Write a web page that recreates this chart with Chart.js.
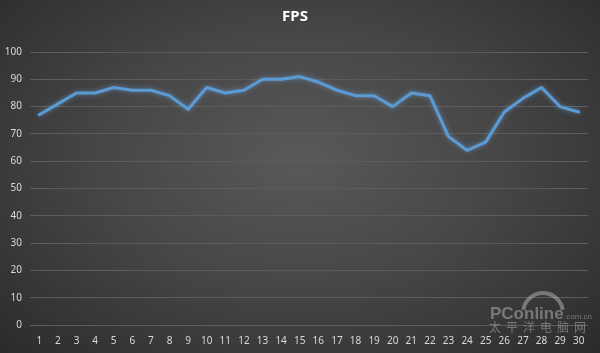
<!DOCTYPE html>
<html>
<head>
<meta charset="utf-8">
<script src="https://cdn.jsdelivr.net/npm/chart.js@4.4.0/dist/chart.umd.min.js"></script>
<style>
  html, body { margin: 0; padding: 0; }
  body {
    width: 600px; height: 353px; overflow: hidden;
    background: radial-gradient(ellipse at 50% 45%, #595959 0%, #474747 45%, #2b2b2b 100%);
  }
  #wrap { position: relative; width: 600px; height: 353px; }
</style>
</head>
<body>
<div id="wrap"><canvas id="graficoFps"></canvas></div>
<script>
const rodadas = ['1','2','3','4','5','6','7','8','9','10','11','12','13','14','15','16','17','18','19','20','21','22','23','24','25','26','27','28','29','30'];
const fpsValores = [77, 81, 85, 85, 87, 86, 86, 84, 79, 87, 85, 86, 90, 90, 91, 89, 86, 84, 84, 80, 85, 84, 69, 64, 67, 78, 83, 87, 80, 78];

const fonte = '"Noto Sans", "DejaVu Sans", sans-serif';

// brilho suave em volta da linha
const brilho = {
  id: 'brilho',
  beforeDatasetDraw(chart) {
    const c = chart.ctx;
    c.save();
    c.shadowColor = 'rgba(120, 180, 240, 0.55)';
    c.shadowBlur = 5;
  },
  afterDatasetDraw(chart) {
    chart.ctx.restore();
  }
};

// marca d'agua
const marca = {
  id: 'marca',
  afterDraw(chart) {
    const c = chart.ctx;
    c.save();
    c.fillStyle = 'rgba(200,200,200,0.45)';
    c.strokeStyle = 'rgba(200,200,200,0.45)';
    // arco do logo
    c.lineWidth = 4;
    c.beginPath();
    c.arc(543, 313, 20, Math.PI * 1.05, Math.PI * 1.95);
    c.stroke();
    c.font = 'bold 17px "Liberation Sans", sans-serif';
    c.textAlign = 'left';
    c.fillText('PConline', 490, 319);
    c.font = '8px "Liberation Sans", sans-serif';
    c.fillText('.com.cn', 564, 319);
    c.font = '12px "Noto Sans CJK SC", sans-serif';
    const chars = '太平洋电脑网';
    for (let i = 0; i < chars.length; i++) {
      c.fillText(chars[i], 489 + i * 17, 332);
    }
    c.restore();
  }
};

const ctx = document.getElementById('graficoFps').getContext('2d');

new Chart(ctx, {
  type: 'line',
  data: {
    labels: rodadas,
    datasets: [{
      label: 'FPS',
      data: fpsValores,
      borderColor: '#5b9bd5',
      borderWidth: 3,
      pointRadius: 0,
      tension: 0,
      borderJoinStyle: 'round',
      borderCapStyle: 'round'
    }]
  },
  options: {
    responsive: true,
    maintainAspectRatio: false,
    animation: false,
    layout: { padding: { left: 2, right: 12, top: 0, bottom: 4 } },
    plugins: {
      legend: { display: false },
      tooltip: { enabled: false },
      title: {
        display: true,
        text: 'FPS',
        color: '#ffffff',
        font: { family: fonte, size: 15, weight: 'bold' },
        padding: { top: 8, bottom: 26 }
      }
    },
    scales: {
      x: {
        offset: true,
        grid: { display: false },
        border: { display: false },
        ticks: {
          color: '#d9d9d9',
          font: { family: fonte, size: 10 },
          maxRotation: 0,
          autoSkip: false,
          padding: 2
        }
      },
      y: {
        min: 0,
        max: 100,
        afterFit: (escala) => { escala.width = 28; },
        grid: { color: '#5c5c5c', lineWidth: 1, drawTicks: false },
        border: { display: false },
        ticks: {
          stepSize: 10,
          color: '#d9d9d9',
          font: { family: fonte, size: 10 },
          padding: 8
        }
      }
    }
  },
  plugins: [brilho, marca]
});
</script>
</body>
</html>
